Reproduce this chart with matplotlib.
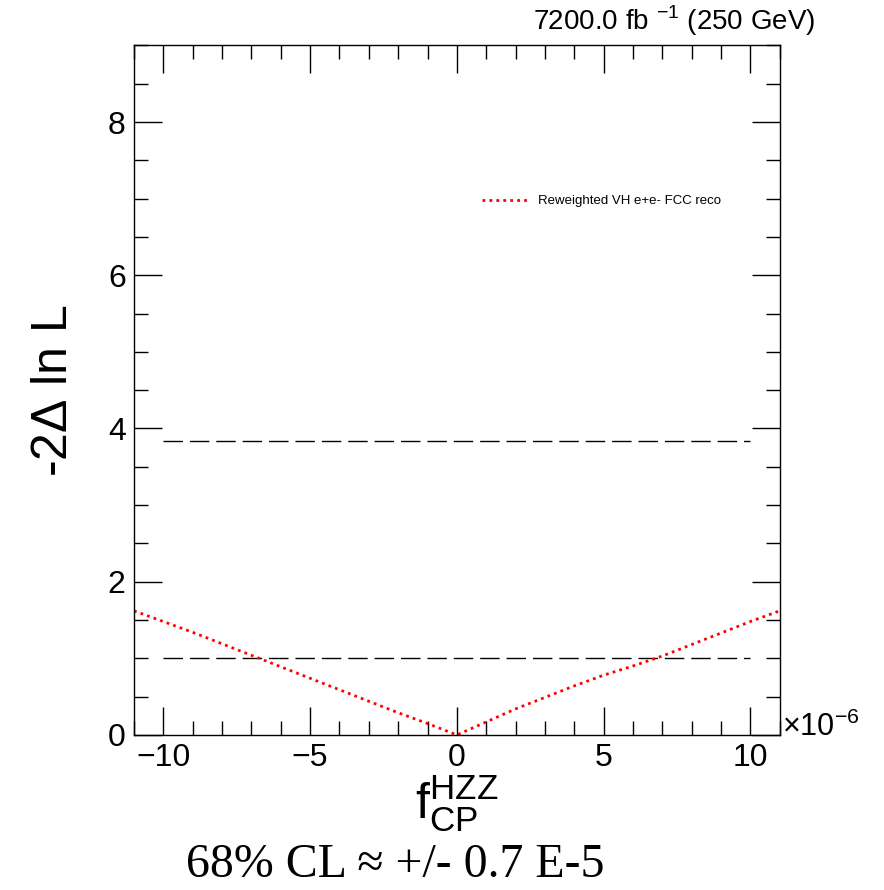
import numpy as np
import matplotlib
matplotlib.use('Agg')
import matplotlib.pyplot as plt
from matplotlib.ticker import MultipleLocator

# scan of -2 delta lnL vs f_CP (units of 1e-6)
fcp = [-11, -10, -9, -8, -7, -6, -5, -4, -3, -2, -1, 0,
       1, 2, 3, 4, 5, 6, 7, 8, 9, 10, 11]
nll = [1.62, 1.48, 1.34, 1.19, 1.04, 0.89, 0.74, 0.59, 0.44, 0.29, 0.15, 0.0,
       0.17, 0.34, 0.49, 0.64, 0.78, 0.90, 1.03, 1.18, 1.33, 1.48, 1.62]
cl_levels = [1.0, 3.84]
cl_xrange = [-10, 10]

plt.rcParams['font.family'] = ['Liberation Sans', 'DejaVu Sans']
plt.rcParams['mathtext.fontset'] = 'custom'
plt.rcParams['mathtext.rm'] = 'Liberation Sans'

fig = plt.figure(figsize=(8.84, 8.90), dpi=100)
ax = fig.add_axes([0.1516, 0.1742, 0.882 - 0.1516, 0.949 - 0.1742])

for lev in cl_levels:
    ax.plot(cl_xrange, [lev, lev], color='black', lw=1.0, dashes=(14, 5))

ax.plot(fcp, nll, color='red', lw=2.0, linestyle=(0, (1, 1.5)),
        label='Reweighted VH e+e- FCC reco')

ax.set_xlim(-11, 11)
ax.set_ylim(0, 9)
ax.xaxis.set_major_locator(MultipleLocator(5))
ax.xaxis.set_minor_locator(MultipleLocator(1))
ax.yaxis.set_major_locator(MultipleLocator(2))
ax.yaxis.set_minor_locator(MultipleLocator(0.5))
ax.tick_params(which='both', direction='in', top=True, right=True, width=1.0,
               labelsize=23, pad=6)
ax.tick_params(which='major', length=20)
ax.tick_params(which='minor', length=10)
ax.set_xticks([-10, -5, 0, 5, 10])
ax.set_xticklabels(['\u221210', '\u22125', '0', '5', '10'])
for s in ax.spines.values():
    s.set_linewidth(1.0)

ax.set_ylabel(r'-2$\Delta$ ln L', fontsize=36, labelpad=22)
ax.set_xlabel(r'$\mathregular{f}_{\mathregular{CP}}^{\mathregular{HZZ}}$', fontsize=36, labelpad=0)

ax.text(1.003, -0.012, r'$\times$10$^{-6}$', transform=ax.transAxes, fontsize=22,
        ha='left', va='bottom')
fig.text(0.922, 0.977, r'7200.0 fb $^{-1}$ (250 GeV)', fontsize=20, ha='right', va='center')

ax.legend(loc='upper left', bbox_to_anchor=(0.52, 0.80), frameon=False, fontsize=9.5,
          handlelength=3.4, handletextpad=0.9)

fig.text(0.447, 0.028, '68% CL \u2248 +/- 0.7 E-5', fontsize=34.5, ha='center', va='center',
         family=['Liberation Serif', 'DejaVu Serif'])

fig.savefig('out.png', dpi=100)
